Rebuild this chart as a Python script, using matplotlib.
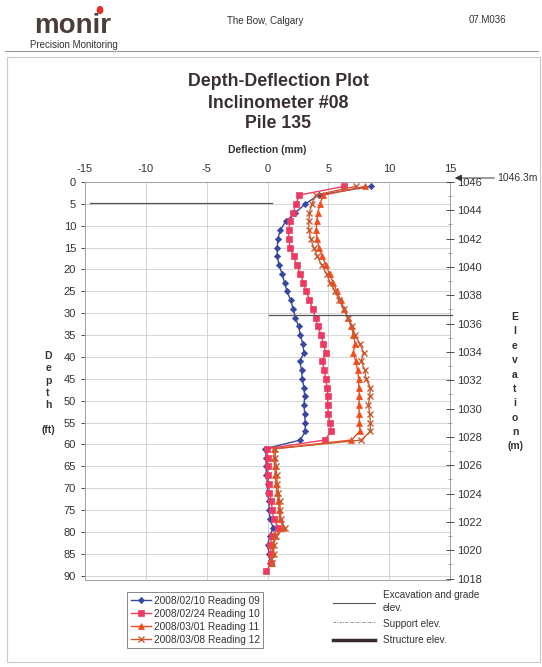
import matplotlib
matplotlib.use("Agg")
import matplotlib.pyplot as plt
from matplotlib.lines import Line2D
from matplotlib.patches import Rectangle, Circle, FancyArrowPatch
import numpy as np

plt.rcParams["font.family"] = ["Liberation Sans", "DejaVu Sans"]
plt.rcParams["axes.unicode_minus"] = False

# depth of each reading (ft)
depth = [1, 3, 5, 7, 9, 11, 13, 15, 17, 19, 21, 23, 25, 27, 29,
         31, 33, 35, 37, 39, 41, 43, 45, 47, 49, 51, 53, 55, 57, 59,
         61, 63, 65, 67, 69, 71, 73, 75, 77, 79, 81, 83, 85, 87, 89]

# deflection (mm)
r09 = [8.5, 4.2, 3.1, 2.3, 1.5, 1.05, 0.85, 0.8, 0.8, 0.95, 1.2, 1.4, 1.6, 1.9, 2.1,
       2.3, 2.55, 2.7, 2.9, 3.0, 2.65, 2.8, 2.85, 3.0, 3.05, 3.0, 3.05, 3.1, 3.1, 2.7,
       -0.2, -0.1, -0.1, -0.1, 0.0, 0.0, 0.1, 0.15, 0.2, 0.45, 0.2, 0.0, 0.15, 0.2, np.nan]
r10 = [6.3, 2.6, 2.35, 2.1, 1.85, 1.75, 1.75, 1.85, 2.15, 2.4, 2.7, 2.95, 3.2, 3.45, 3.7,
       3.95, 4.15, 4.4, 4.6, 4.8, 4.5, 4.65, 4.8, 4.9, 4.95, 4.95, 5.0, 5.1, 5.25, 4.7,
       -0.05, 0.0, 0.0, 0.05, 0.1, 0.15, 0.3, 0.4, 0.5, 0.9, 0.4, 0.2, 0.3, 0.3, -0.1]
r11 = [8.0, 4.6, 4.3, 4.15, 4.05, 4.0, 4.05, 4.25, 4.5, 4.8, 5.1, 5.4, 5.7, 6.0, 6.3,
       6.6, 6.9, 7.05, 7.2, 7.05, 7.25, 7.4, 7.5, 7.5, 7.55, 7.5, 7.55, 7.55, 7.6, 6.9,
       0.5, 0.55, 0.6, 0.65, 0.7, 0.8, 0.9, 0.95, 1.0, 1.3, 0.6, 0.4, 0.4, 0.3, np.nan]
r12 = [7.25, 3.95, 3.65, 3.45, 3.4, 3.4, 3.55, 3.8, 4.1, 4.45, 4.85, 5.15, 5.55, 5.9, 6.25,
       6.6, 6.95, 7.2, 7.6, 7.9, 7.7, 8.0, 8.1, 8.45, 8.4, 8.3, 8.4, 8.45, 8.45, 7.7,
       0.65, 0.65, 0.7, 0.75, 0.8, 0.9, 1.0, 1.05, 1.1, 1.4, 0.7, 0.5, 0.5, 0.35, np.nan]

labels = ["2008/02/10 Reading 09", "2008/02/24 Reading 10",
          "2008/03/01 Reading 11", "2008/03/08 Reading 12"]
colors = ["#3848a0", "#ee3a62", "#f44a1c", "#c85a30"]
markers = ["D", "s", "^", "x"]
msizes = [3.2, 4.2, 4.4, 4.2]

# excavation lines: (depth ft, x from, x to)
exc_lines = [(4.8, -14.6, 0.4), (30.5, 0.1, 15.2)]
top_elev = 1046.3

W, H = 542, 667
def fx(p):
    return p / W
def fy(p):
    return 1 - p / H

fig = plt.figure(figsize=(5.42, 6.67), dpi=100)
txt = "#333333"

# page header
fig.text(fx(34), fy(33), "monir", fontsize=20, fontweight="bold", color="#4d3c3c",
         ha="left", va="baseline")
fig.add_artist(Circle((fx(100), fy(10)), 0.005, transform=fig.transFigure,
                      color="#e0302a"))
fig.text(fx(30), fy(44.5), "Precision Monitoring", fontsize=7, color=txt, ha="left", va="center")
fig.text(fx(265), fy(21), "The Bow, Calgary", fontsize=7, color=txt, ha="center", va="center")
fig.text(fx(487), fy(20), "07.M036", fontsize=7, color=txt, ha="center", va="center")
fig.add_artist(Line2D([fx(5), fx(538)], [fy(51), fy(51)], color="#999999", lw=0.8))
fig.add_artist(Rectangle((fx(7), fy(662)), fx(533), 605 / H, transform=fig.transFigure,
                         fill=False, edgecolor="#c8c8c8", lw=0.8))

# titles
for y, t in [(82, "Depth-Deflection Plot"), (103, "Inclinometer #08"), (123, "Pile 135")]:
    fig.text(fx(278), fy(y), t, fontsize=12.8, fontweight="bold", color="#3a3030",
             ha="center", va="center")
fig.text(fx(267), fy(150), "Deflection (mm)", fontsize=7.5, fontweight="bold",
         color=txt, ha="center", va="center")

ax = fig.add_axes([fx(85), fy(580), (450 - 85) / W, (580 - 182) / H])
for c, m, ms, lab, vals in zip(colors, markers, msizes, labels, [r09, r10, r11, r12]):
    ax.plot(vals, depth, color=c, marker=m, markersize=ms, lw=1.0,
            mew=1.0 if m == "x" else 0.5, label=lab, zorder=3)

for d, x0, x1 in exc_lines:
    ax.plot([x0, x1], [d, d], color="#555555", lw=0.9, clip_on=False, zorder=4)

ax.set_xlim(-15, 15)
ax.set_ylim(91, 0)
ax.set_xticks(np.arange(-15, 16, 5))
ax.set_yticks(np.arange(0, 91, 5))
ax.xaxis.tick_top()
ax.tick_params(axis="both", labelsize=8, colors=txt, length=3, width=0.6)
ax.tick_params(axis="x", length=0, pad=6)
ax.grid(color="#cfcfcf", lw=0.6)
ax.set_axisbelow(True)
for s in ax.spines.values():
    s.set_color("#a0a0a0")
    s.set_linewidth(0.7)

ax2 = ax.twinx()
ax2.set_ylim(1017.9, 1046)
ax2.set_yticks(np.arange(1018, 1047, 2))
ax2.set_yticks(np.arange(1018, 1047, 1), minor=True)
ax2.tick_params(axis="y", labelsize=8, colors=txt, direction="inout", length=6, width=0.6, pad=2)
ax2.tick_params(axis="y", which="minor", direction="inout", length=3, width=0.5, colors="#888888")
for s in ax2.spines.values():
    s.set_visible(False)

# surface elevation marker
fig.add_artist(FancyArrowPatch(
    (fx(497), fy(178)), (fx(452), fy(178)), transform=fig.transFigure,
    arrowstyle="-|>,head_length=4,head_width=2", color="#333333", lw=0.7))
fig.text(fx(497), fy(178), "%.1fm" % top_elev, fontsize=7.5, color=txt, ha="left", va="center")

# stacked axis captions
for i, ch in enumerate("Depth"):
    fig.text(fx(48), fy(356 + i * 12.3), ch, fontsize=7.5, fontweight="bold", color=txt,
             ha="center", va="center")
fig.text(fx(48), fy(430), "(ft)", fontsize=7.5, fontweight="bold", color=txt,
         ha="center", va="center")
for i, ch in enumerate("Elevation"):
    fig.text(fx(515), fy(317 + i * 14.4), ch, fontsize=7.5, fontweight="bold", color=txt,
             ha="center", va="center")
fig.text(fx(515), fy(446), "(m)", fontsize=7.5, fontweight="bold", color=txt,
         ha="center", va="center")

# series legend
leg = ax.legend(loc="upper left", bbox_to_anchor=(fx(127), fy(592)),
                bbox_transform=fig.transFigure, borderaxespad=0, fontsize=7.3,
                handlelength=2.0, handletextpad=0.3, labelspacing=0.3, borderpad=0.35,
                fancybox=False, framealpha=1)
leg.get_frame().set_edgecolor("#888888")
leg.get_frame().set_linewidth(0.7)
for t in leg.get_texts():
    t.set_color(txt)

# elevation line key
fig.add_artist(Line2D([fx(333), fx(375)], [fy(603), fy(603)], color="#555555", lw=0.8))
fig.add_artist(Line2D([fx(333), fx(375)], [fy(622), fy(622)], color="#777777", lw=0.6,
                      linestyle=(0, (3, 1.5, 1, 1.5))))
fig.add_artist(Line2D([fx(333), fx(375)], [fy(640), fy(640)], color="#3a2a2a", lw=2.5))
for y, t in [(595, "Excavation and grade"), (608, "elev."), (624, "Support elev."),
             (640, "Structure elev.")]:
    fig.text(fx(383), fy(y), t, fontsize=7.2, color=txt, ha="left", va="center")

fig.savefig("out.png", dpi=100)
